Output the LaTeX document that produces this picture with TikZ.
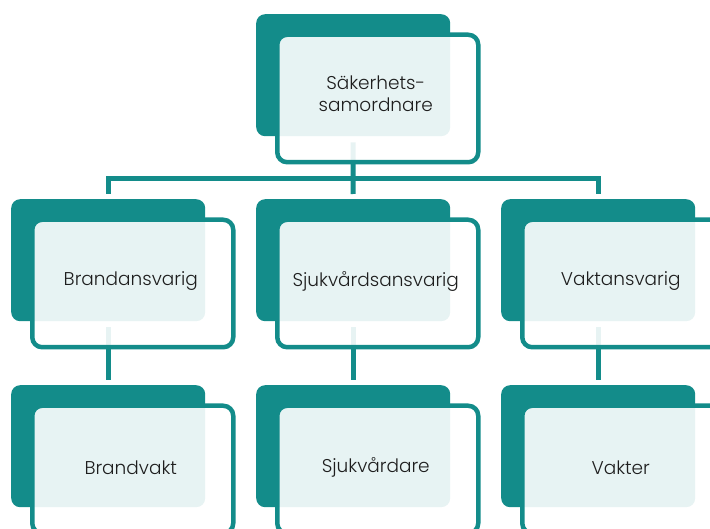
\documentclass[tikz,border=0pt]{standalone}
\usepackage{fontspec}
\setmainfont{Poppins}[UprightFont=* Light]
\definecolor{tealc}{RGB}{19,140,138}
\definecolor{txt}{RGB}{30,30,30}
\tikzset{
  back/.style={fill=tealc, rounded corners=9pt, minimum width=194pt, minimum height=122pt, anchor=north west, inner sep=0pt, draw=none},
  frame/.style={draw=tealc, line width=4.5pt, fill=white, fill opacity=0.9, rounded corners=10pt, minimum width=201pt, minimum height=127.5pt, anchor=north west, inner sep=0pt},
  lbl/.style={text=txt, font=\fontsize{18.5}{22}\selectfont, align=center, inner sep=0pt},
  conn/.style={draw=tealc, line width=5pt}
}
\begin{document}
\begin{tikzpicture}[x=1pt,y=-1pt]
\useasboundingbox (0,0) rectangle (710,529);
% connectors
\coordinate (hub) at (353,178.5);
\node[back, fill=none] (gA) at (256,14) {};
\node[back, fill=none] (gB) at (11,199) {};
\node[back, fill=none] (gC) at (256,199) {};
\node[back, fill=none] (gD) at (501,199) {};
\node[back, fill=none] (gE) at (11,385) {};
\node[back, fill=none] (gF) at (256,385) {};
\node[back, fill=none] (gG) at (501,385) {};
\draw[conn] ([yshift=-6pt]gA.south) -- (hub);
\draw[conn] ([yshift=5pt]gB.north) |- (hub);
\draw[conn] ([yshift=5pt]gC.north) -- (hub);
\draw[conn] ([yshift=5pt]gD.north) |- (hub);
\draw[conn] ([yshift=-6pt]gB.south) -- ([yshift=5pt]gE.north);
\draw[conn] ([yshift=-6pt]gC.south) -- ([yshift=5pt]gF.north);
\draw[conn] ([yshift=-6pt]gD.south) -- ([yshift=5pt]gG.north);
% boxes
\foreach \n/\x/\y in {A/256/14, B/11/199, C/256/199, D/501/199, E/11/385, F/256/385, G/501/385}{
  \node[back] (t\n) at (\x,\y) {};
  \node[frame] (o\n) at (\x+19,\y+18.5) {};
}
% labels
\node[lbl] (lA) at ([xshift=-2pt,yshift=4.5pt]oA.center) {Säkerhets-\\samordnare};
\node[lbl] (lB) at ([xshift=-2pt,yshift=2.5pt]oB.center) {Brandansvarig};
\node[lbl] (lC) at ([xshift=-2pt,yshift=2.5pt]oC.center) {Sjukvårdsansvarig};
\node[lbl] (lD) at ([xshift=-2pt,yshift=2.5pt]oD.center) {Vaktansvarig};
\node[lbl] (lE) at ([xshift=-2pt,yshift=2pt]oE.center) {Brandvakt};
\node[lbl] (lF) at ([xshift=-2pt,yshift=2pt]oF.center) {Sjukvårdare};
\node[lbl] (lG) at ([xshift=-2pt,yshift=2pt]oG.center) {Vakter};
\end{tikzpicture}
\end{document}
